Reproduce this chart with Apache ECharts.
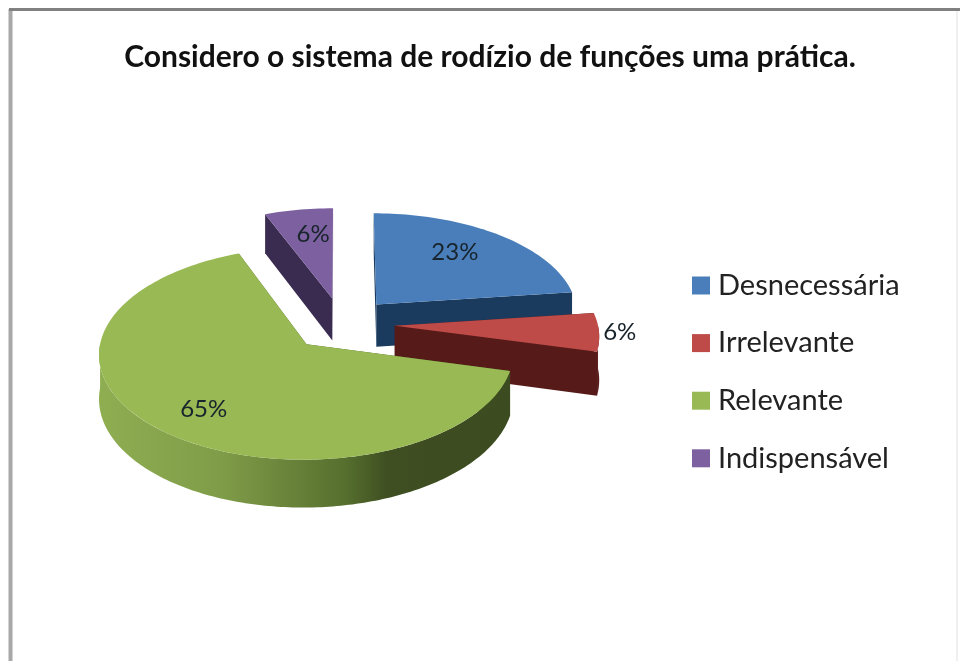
<!DOCTYPE html>
<html>
<head>
<meta charset="utf-8">
<style>html,body{margin:0;padding:0;background:#fff}#main{width:960px;height:661px}</style>
<script src="https://cdn.jsdelivr.net/npm/echarts@6/dist/echarts.min.js"></script>
</head>
<body>
<div id="main"></div>
<script>
const categories = ['Desnecessária', 'Irrelevante', 'Relevante', 'Indispensável'];
const percentages = [23, 6, 65, 6];
const topColors = ['#4a7ebb', '#be4b48', '#98b954', '#7d60a0'];
const wallColors = ['#1a3a5e', '#561b19', '#4a5e28', '#3a2b50'];
const labelRadius = [0.72, 1.13, 0.72, 0.7];
const labelNudge = [[-11, -1], [-6, -1], [2, 5], [5, -1]];

// Disc projection: unit disc seen from above, with a mild perspective.
const disc = { cx: 342, cy: 324, rx: 203, ry: 102, depth: 43, persp: 0.085, explode: 0.26 };

function project(x, y, z) {
  const s = 1 / (1 + disc.persp * y);
  return [disc.cx + disc.rx * x * s, disc.cy - (disc.ry * y + disc.depth * z) * s];
}

const total = percentages.reduce((a, b) => a + b, 0);
const starts = [];
percentages.reduce((acc, v, i) => { starts[i] = acc; return acc + v; }, 0);

function renderSlice(params, api) {
  const i = params.seriesIndex;
  const a0 = (api.value(1) / total) * Math.PI * 2;
  const a1 = ((api.value(1) + api.value(0)) / total) * Math.PI * 2;
  const mid = (a0 + a1) / 2;
  const ox = disc.explode * Math.sin(mid);
  const oy = disc.explode * Math.cos(mid);
  const rim = a => [ox + Math.sin(a), oy + Math.cos(a)];

  const steps = Math.max(8, Math.round((a1 - a0) * 40));
  const topPts = [project(ox, oy, 0)];
  for (let k = 0; k <= steps; k++) {
    const p = rim(a0 + (a1 - a0) * k / steps);
    topPts.push(project(p[0], p[1], 0));
  }

  // Radial wall under one straight edge of the slice.
  const radialWall = a => {
    const p = rim(a);
    return [project(ox, oy, 0), project(p[0], p[1], 0), project(p[0], p[1], -1), project(ox, oy, -1)];
  };

  // Outer curved wall, only over the part of the rim that faces the viewer.
  const from = Math.max(a0, Math.PI / 2);
  const to = Math.min(a1, Math.PI * 1.5);
  const children = [
    { type: 'polygon', shape: { points: radialWall(a0) }, style: { fill: wallColors[i] } },
    { type: 'polygon', shape: { points: radialWall(a1) }, style: { fill: wallColors[i] } }
  ];
  if (to > from) {
    const upper = [], lower = [];
    for (let k = 0; k <= steps; k++) {
      const p = rim(from + (to - from) * k / steps);
      upper.push(project(p[0], p[1], 0));
      lower.unshift(project(p[0], p[1], -1));
    }
    const sweep = to - from > 1;
    children.push({
      type: 'polygon',
      shape: { points: upper.concat(lower) },
      style: {
        fill: sweep
          ? new echarts.graphic.LinearGradient(0, 0, 1, 0, [
              { offset: 0, color: '#8fae52' },
              { offset: 0.3, color: '#7f9c48' },
              { offset: 0.6, color: '#566f2e' },
              { offset: 0.7, color: '#3f4f22' },
              { offset: 1, color: '#3c4b20' }
            ])
          : wallColors[i]
      }
    });
  }
  children.push({ type: 'polygon', shape: { points: topPts }, style: { fill: topColors[i] } });

  const r = labelRadius[i];
  const lp = project(ox + r * Math.sin(mid), oy + r * Math.cos(mid), 0);
  children.push({
    type: 'text',
    style: {
      x: lp[0] + labelNudge[i][0], y: lp[1] + labelNudge[i][1], text: api.value(0) + '%',
      fill: '#18242c', font: '24px Lato', align: 'center', verticalAlign: 'middle'
    }
  });
  return { type: 'group', children };
}

// Slices further back are painted first.
const depthRank = percentages.map((v, i) => Math.cos(((starts[i] + v / 2) / total) * Math.PI * 2));

const chart = echarts.init(document.getElementById('main'), null, { renderer: 'canvas' });
chart.setOption({
  backgroundColor: '#ffffff',
  animation: false,
  color: topColors,
  title: {
    text: 'Considero o sistema de rodízio de funções uma prática.',
    left: 485, top: 37, textAlign: 'center',
    textStyle: { fontFamily: 'Lato', fontSize: 30, fontWeight: 'bold', color: '#111111' }
  },
  legend: {
    orient: 'vertical', left: 687, top: 266,
    itemWidth: 18, itemHeight: 18, itemGap: 28.6,
    icon: 'rect', data: categories,
    textStyle: { fontFamily: 'Lato', fontSize: 29, color: '#222222', padding: [0, 0, 0, 3] }
  },
  graphic: [
    { type: 'line', silent: true, shape: { x1: 957, y1: 9, x2: 957, y2: 661 },
      style: { stroke: '#f0f0f0', lineWidth: 2 } },
    { type: 'line', silent: true, shape: { x1: 10.5, y1: 9, x2: 10.5, y2: 661 },
      style: { stroke: '#a8a8a8', lineWidth: 4 } },
    { type: 'line', silent: true, shape: { x1: 9, y1: 9.5, x2: 960, y2: 9.5 },
      style: { stroke: '#808080', lineWidth: 3 } }
  ],
  series: categories.map((name, i) => ({
    type: 'custom',
    name,
    coordinateSystem: 'none',
    z: 10 - depthRank[i],
    silent: true,
    data: [[percentages[i], starts[i]]],
    renderItem: renderSlice
  }))
});
</script>
</body>
</html>
